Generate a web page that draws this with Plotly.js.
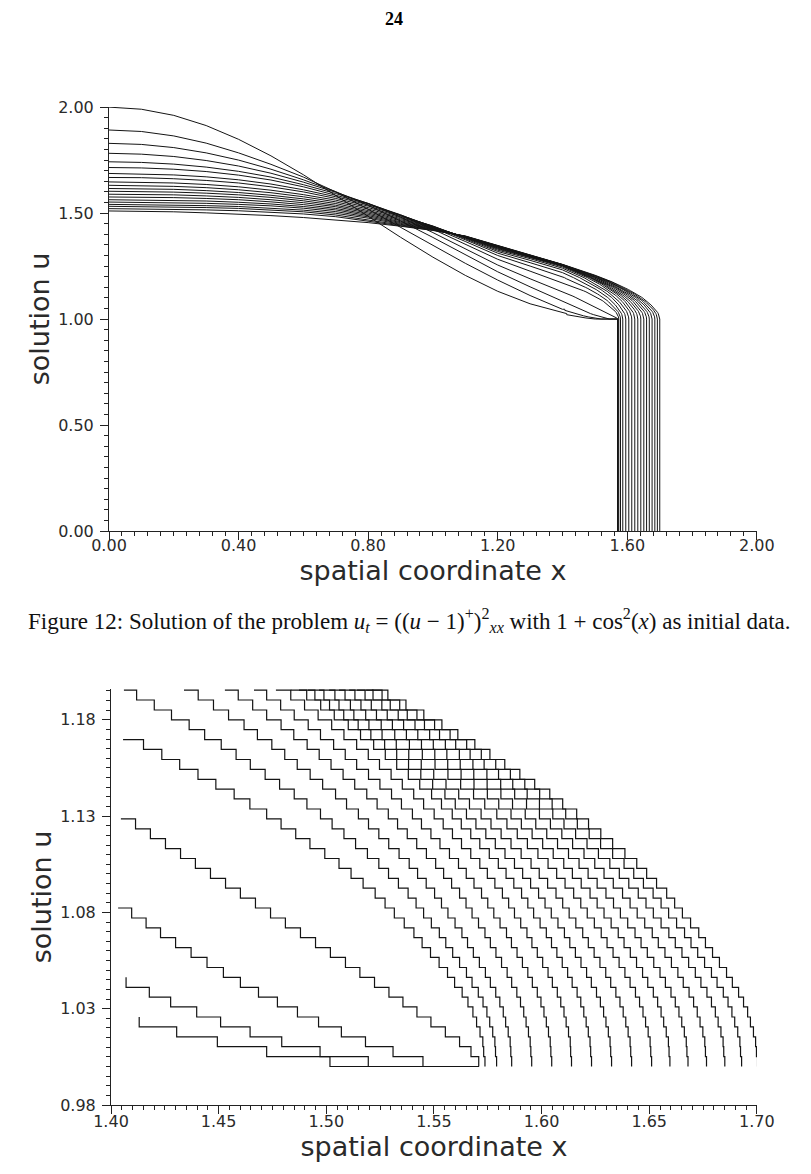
<!DOCTYPE html>
<html><head><meta charset="utf-8">
<script src="https://cdn.plot.ly/plotly-3.0.1.min.js"></script>
<style>html,body{margin:0;padding:0;background:#fff;}#chart{width:811px;height:1174px;}</style>
</head><body><div id="chart"></div>
<script>
// ---------- Top panel: full profiles u(x) at successive times ----------
const xGrid = [0.0,0.1,0.2,0.3,0.4,0.5,0.6,0.7,0.8,0.9,1.0,1.1,1.2,1.3,1.4,1.5];
const prof0  = [2.000,1.990,1.961,1.913,1.848,1.770,1.681,1.585,1.485,1.386,1.292,1.206,1.131,1.072,1.029,1.005];
const prof1  = [1.892,1.885,1.864,1.830,1.784,1.730,1.670,1.600,1.518,1.432,1.346,1.263,1.184,1.111,1.046,1.008];
const prof2  = [1.829,1.824,1.809,1.784,1.750,1.707,1.657,1.601,1.537,1.463,1.385,1.303,1.223,1.152,1.085,1.030];
const prof3  = [1.782,1.778,1.767,1.748,1.722,1.688,1.646,1.598,1.545,1.481,1.408,1.330,1.255,1.190,1.129,1.060];
const prof4  = [1.742,1.739,1.731,1.717,1.697,1.670,1.634,1.592,1.546,1.489,1.424,1.352,1.282,1.226,1.170,1.100];
const prof5  = [1.715,1.713,1.707,1.696,1.679,1.656,1.624,1.585,1.544,1.492,1.432,1.366,1.300,1.250,1.200,1.140];
const prof6  = [1.687,1.685,1.680,1.671,1.657,1.637,1.610,1.577,1.539,1.491,1.436,1.374,1.311,1.266,1.219,1.165];
const prof7  = [1.668,1.667,1.662,1.654,1.642,1.624,1.600,1.569,1.533,1.488,1.438,1.379,1.319,1.277,1.232,1.180];
const prof8  = [1.647,1.646,1.642,1.635,1.624,1.608,1.587,1.561,1.526,1.484,1.439,1.382,1.325,1.285,1.240,1.190];
const prof9  = [1.631,1.630,1.626,1.620,1.610,1.596,1.577,1.553,1.519,1.479,1.437,1.384,1.330,1.290,1.246,1.197];
const prof10 = [1.616,1.615,1.612,1.606,1.597,1.584,1.567,1.545,1.512,1.474,1.435,1.385,1.333,1.292,1.250,1.202];
const prof11 = [1.603,1.602,1.599,1.594,1.586,1.574,1.558,1.537,1.506,1.469,1.433,1.386,1.336,1.294,1.252,1.205];
const prof12 = [1.589,1.588,1.586,1.581,1.574,1.563,1.549,1.530,1.500,1.464,1.431,1.387,1.338,1.296,1.253,1.207];
const prof13 = [1.576,1.575,1.573,1.569,1.563,1.553,1.540,1.522,1.494,1.459,1.429,1.388,1.340,1.298,1.254,1.208];
const prof14 = [1.563,1.562,1.560,1.557,1.551,1.543,1.531,1.515,1.488,1.455,1.427,1.389,1.342,1.299,1.255,1.197];
const prof15 = [1.552,1.551,1.549,1.546,1.541,1.534,1.523,1.507,1.482,1.451,1.425,1.389,1.343,1.300,1.256,1.199];
const prof16 = [1.541,1.540,1.538,1.535,1.531,1.524,1.514,1.499,1.476,1.447,1.423,1.390,1.344,1.300,1.256,1.201];
const prof17 = [1.532,1.531,1.529,1.526,1.522,1.515,1.506,1.491,1.469,1.444,1.421,1.390,1.345,1.301,1.257,1.203];
const prof18 = [1.521,1.520,1.518,1.515,1.511,1.505,1.496,1.483,1.462,1.441,1.419,1.391,1.346,1.301,1.257,1.205];
const prof19 = [1.510,1.509,1.506,1.501,1.495,1.488,1.479,1.468,1.455,1.438,1.418,1.392,1.347,1.302,1.258,1.207];

// ---------- Bottom panel: plotter staircase near the front ----------
// plotter's u levels (level 0 = 1.00)
const uLevels = [1.0000,1.0051,1.0103,1.0154,1.0206,1.0257,1.0309,1.0360,1.0411,1.0463,
                 1.0514,1.0566,1.0617,1.0669,1.0720,1.0771,1.0823,1.0874,1.0926,1.0977,
                 1.1029,1.1080,1.1131,1.1183,1.1234,1.1286,1.1337,1.1389,1.1440,1.1491,
                 1.1543,1.1594,1.1646,1.1697,1.1749,1.1800,1.1851,1.1903,1.1954];
// top level index of each curve's first step
const stepTop = [5,9,16,25,33,38,38,38,38,38,38,38,38,38,38,38,38,38,38,38];
// x at each step (one per level from the top level downward)
const stepX0  = [1.4131,1.4131,1.4305,1.4494,1.4723,1.5017,1.5708];
const stepX1  = [1.4070,1.4070,1.4178,1.4277,1.4398,1.4509,1.4646,1.4793,1.4971,1.5195,1.5708];
const stepX2  = [1.4033,1.4096,1.4163,1.4230,1.4300,1.4372,1.4446,1.4522,1.4601,1.4685,1.4773,1.4866,1.4964,1.5070,1.5182,1.5310,1.5449,1.5708];
const stepX3  = [1.4046,1.4114,1.4183,1.4253,1.4323,1.4392,1.4462,1.4532,1.4601,1.4671,1.4741,1.4810,1.4880,1.4950,1.5019,1.5089,1.5156,1.5224,1.5291,1.5356,1.5421,1.5486,1.5553,1.5619,1.5672,1.5708];
const stepX4  = [1.4056,1.4151,1.4236,1.4319,1.4404,1.4487,1.4572,1.4645,1.4723,1.4790,1.4858,1.4924,1.4993,1.5059,1.5115,1.5171,1.5227,1.5273,1.5316,1.5362,1.5407,1.5445,1.5484,1.5524,1.5563,1.5596,1.5631,1.5658,1.5681,1.5698,1.5714,1.5727,1.5731,1.5737];
const stepX5  = [1.4060,1.4119,1.4201,1.4281,1.4363,1.4435,1.4512,1.4581,1.4647,1.4716,1.4783,1.4851,1.4910,1.4973,1.5027,1.5082,1.5136,1.5191,1.5244,1.5289,1.5335,1.5380,1.5417,1.5452,1.5488,1.5525,1.5555,1.5587,1.5619,1.5651,1.5677,1.5706,1.5728,1.5746,1.5759,1.5773,1.5783,1.5786,1.5791];
const stepX6  = [1.4339,1.4405,1.4476,1.4546,1.4618,1.4680,1.4747,1.4807,1.4865,1.4925,1.4983,1.5043,1.5094,1.5149,1.5196,1.5244,1.5290,1.5338,1.5385,1.5424,1.5464,1.5503,1.5535,1.5565,1.5598,1.5630,1.5656,1.5683,1.5711,1.5739,1.5762,1.5787,1.5806,1.5822,1.5833,1.5845,1.5854,1.5857,1.5861];
const stepX7  = [1.4529,1.4591,1.4658,1.4723,1.4790,1.4849,1.4911,1.4967,1.5022,1.5078,1.5132,1.5188,1.5236,1.5288,1.5331,1.5376,1.5420,1.5465,1.5508,1.5545,1.5582,1.5619,1.5649,1.5677,1.5707,1.5737,1.5762,1.5788,1.5814,1.5840,1.5861,1.5885,1.5902,1.5917,1.5928,1.5939,1.5947,1.5950,1.5954];
const stepX8  = [1.4664,1.4723,1.4788,1.4851,1.4916,1.4973,1.5034,1.5088,1.5141,1.5196,1.5249,1.5303,1.5349,1.5400,1.5442,1.5486,1.5528,1.5572,1.5614,1.5650,1.5686,1.5721,1.5750,1.5778,1.5807,1.5837,1.5860,1.5886,1.5911,1.5936,1.5957,1.5980,1.5997,1.6011,1.6022,1.6032,1.6040,1.6043,1.6047];
const stepX9  = [1.4766,1.4835,1.4899,1.4962,1.5025,1.5082,1.5141,1.5195,1.5247,1.5301,1.5353,1.5406,1.5452,1.5501,1.5543,1.5586,1.5628,1.5671,1.5713,1.5748,1.5783,1.5818,1.5847,1.5874,1.5903,1.5932,1.5955,1.5980,1.6005,1.6030,1.6050,1.6073,1.6089,1.6104,1.6114,1.6125,1.6133,1.6135,1.6139];
const stepX10 = [1.4835,1.4909,1.4974,1.5037,1.5102,1.5159,1.5220,1.5274,1.5327,1.5381,1.5434,1.5489,1.5535,1.5585,1.5627,1.5671,1.5713,1.5757,1.5799,1.5835,1.5871,1.5907,1.5936,1.5963,1.5993,1.6022,1.6046,1.6071,1.6096,1.6121,1.6142,1.6165,1.6182,1.6196,1.6207,1.6217,1.6225,1.6228,1.6232];
const stepX11 = [1.4873,1.4947,1.5015,1.5081,1.5148,1.5207,1.5271,1.5327,1.5382,1.5439,1.5494,1.5551,1.5599,1.5651,1.5695,1.5741,1.5785,1.5830,1.5874,1.5912,1.5949,1.5986,1.6016,1.6045,1.6076,1.6106,1.6131,1.6157,1.6183,1.6209,1.6231,1.6255,1.6273,1.6288,1.6299,1.6310,1.6318,1.6321,1.6325];
const stepX12 = [1.4915,1.4989,1.5059,1.5128,1.5198,1.5259,1.5325,1.5383,1.5441,1.5499,1.5556,1.5615,1.5665,1.5719,1.5765,1.5812,1.5858,1.5905,1.5951,1.5989,1.6028,1.6067,1.6098,1.6128,1.6159,1.6191,1.6217,1.6244,1.6271,1.6298,1.6321,1.6345,1.6364,1.6379,1.6391,1.6402,1.6411,1.6414,1.6418];
const stepX13 = [1.4966,1.5040,1.5112,1.5183,1.5255,1.5318,1.5386,1.5446,1.5505,1.5565,1.5624,1.5684,1.5736,1.5792,1.5839,1.5887,1.5934,1.5983,1.6030,1.6070,1.6109,1.6149,1.6182,1.6212,1.6245,1.6277,1.6304,1.6332,1.6360,1.6387,1.6411,1.6436,1.6455,1.6471,1.6483,1.6495,1.6504,1.6507,1.6511];
const stepX14 = [1.5013,1.5087,1.5161,1.5233,1.5307,1.5372,1.5442,1.5504,1.5564,1.5626,1.5686,1.5748,1.5801,1.5858,1.5906,1.5956,1.6005,1.6054,1.6103,1.6143,1.6184,1.6225,1.6258,1.6290,1.6323,1.6356,1.6383,1.6412,1.6441,1.6469,1.6493,1.6519,1.6539,1.6555,1.6567,1.6579,1.6589,1.6592,1.6596];
const stepX15 = [1.5059,1.5133,1.5209,1.5283,1.5359,1.5425,1.5497,1.5560,1.5622,1.5685,1.5747,1.5811,1.5865,1.5924,1.5973,1.6024,1.6074,1.6125,1.6174,1.6216,1.6258,1.6299,1.6334,1.6366,1.6400,1.6434,1.6462,1.6491,1.6521,1.6550,1.6575,1.6601,1.6621,1.6638,1.6651,1.6663,1.6672,1.6675,1.6680];
const stepX16 = [1.5106,1.5180,1.5258,1.5334,1.5412,1.5480,1.5553,1.5618,1.5681,1.5746,1.5810,1.5875,1.5930,1.5990,1.6041,1.6094,1.6144,1.6197,1.6247,1.6290,1.6333,1.6376,1.6411,1.6444,1.6479,1.6514,1.6542,1.6573,1.6603,1.6633,1.6658,1.6685,1.6706,1.6723,1.6736,1.6749,1.6758,1.6761,1.6766];
const stepX17 = [1.5143,1.5217,1.5297,1.5376,1.5456,1.5526,1.5601,1.5668,1.5733,1.5800,1.5866,1.5933,1.5990,1.6052,1.6104,1.6158,1.6211,1.6264,1.6317,1.6361,1.6405,1.6449,1.6485,1.6519,1.6555,1.6591,1.6621,1.6652,1.6683,1.6714,1.6740,1.6768,1.6789,1.6807,1.6820,1.6833,1.6843,1.6846,1.6851];
const stepX18 = [1.5185,1.5259,1.5341,1.5421,1.5503,1.5575,1.5652,1.5720,1.5787,1.5855,1.5922,1.5991,1.6049,1.6112,1.6166,1.6221,1.6274,1.6330,1.6383,1.6428,1.6473,1.6518,1.6555,1.6590,1.6627,1.6664,1.6694,1.6725,1.6757,1.6789,1.6815,1.6844,1.6866,1.6884,1.6897,1.6911,1.6921,1.6924,1.6929];
const stepX19 = [1.5212,1.5286,1.5370,1.5453,1.5537,1.5611,1.5690,1.5760,1.5829,1.5899,1.5968,1.6038,1.6098,1.6163,1.6218,1.6275,1.6330,1.6387,1.6442,1.6488,1.6534,1.6581,1.6618,1.6654,1.6692,1.6730,1.6761,1.6794,1.6826,1.6859,1.6886,1.6915,1.6938,1.6957,1.6970,1.6984,1.6994,1.6998,1.7003];

// ---------- Tick labels ----------
const xTicks1 = [0,0.4,0.8,1.2,1.6,2.0];
const xTickText1 = ['0.00','0.40','0.80','1.20','1.60','2.00'];
const yTicks1 = [0,0.5,1.0,1.5,2.0];
const yTickText1 = ['0.00','0.50','1.00','1.50','2.00'];
const xTicks2 = [1.40,1.45,1.50,1.55,1.60,1.65,1.70];
const xTickText2 = ['1.40','1.45','1.50','1.55','1.60','1.65','1.70'];
const yTicks2 = [0.98,1.03,1.08,1.13,1.18];
const yTickText2 = ['0.98','1.03','1.08','1.13','1.18'];

const profiles = [prof0,prof1,prof2,prof3,prof4,prof5,prof6,prof7,prof8,prof9,prof10,prof11,prof12,prof13,prof14,prof15,prof16,prof17,prof18,prof19];
const stepsX = [stepX0,stepX1,stepX2,stepX3,stepX4,stepX5,stepX6,stepX7,stepX8,stepX9,stepX10,stepX11,stepX12,stepX13,stepX14,stepX15,stepX16,stepX17,stepX18,stepX19];

const ink = '#141414';
const traces = [];
for (let c = 0; c < profiles.length; c++) {
  const sx = stepsX[c];
  const su = sx.map((_, i) => uLevels[Math.max(stepTop[c] - i, 0)]);
  const fx = [], fu = [];
  profiles[c].forEach((u, i) => { if (xGrid[i] < sx[0]) { fx.push(xGrid[i]); fu.push(u); } });
  sx.forEach((x, i) => { fx.push(x); fu.push(su[i]); });
  fx.push(sx[sx.length - 1]); fu.push(0);
  traces.push({x: fx, y: fu, xaxis: 'x', yaxis: 'y', type: 'scatter', mode: 'lines',
               line: {color: ink, width: 1}, hoverinfo: 'skip'});
  traces.push({x: sx, y: su, xaxis: 'x2', yaxis: 'y2', type: 'scatter', mode: 'lines',
               line: {color: ink, width: 1.2, shape: 'hv'}, hoverinfo: 'skip'});
}

const axisCommon = {
  showline: true, linecolor: '#222', linewidth: 1, showgrid: false, zeroline: false,
  ticks: 'outside', ticklen: 8, tickwidth: 1, tickcolor: '#222', tickmode: 'array',
  tickfont: {family: 'DejaVu Sans, sans-serif', size: 16, color: '#2a2a2a'}
};
const titleFont = {family: 'DejaVu Sans, sans-serif', size: 27, color: '#2a2a2a'};
const H = 1174, W = 811;

const layout = {
  width: W, height: H, margin: {l: 0, r: 0, t: 0, b: 0},
  paper_bgcolor: '#fff', plot_bgcolor: 'rgba(0,0,0,0)', showlegend: false,
  xaxis: Object.assign({}, axisCommon, {
    domain: [109/W, 757/W], range: [0, 2.0005], anchor: 'y',
    tickvals: xTicks1, ticktext: xTickText1, ticklabelstandoff: -8,
    minor: {tickmode: 'linear', tick0: 0, dtick: 0.04, ticks: 'outside', ticklen: 4, tickcolor: '#222', showgrid: false},
    title: {text: 'spatial coordinate x', font: titleFont, standoff: 0}
  }),
  yaxis: Object.assign({}, axisCommon, {
    domain: [(H-531)/H, (H-107)/H], range: [0, 2.0005], anchor: 'x',
    tickvals: yTicks1, ticktext: yTickText1, ticklabelstandoff: 3,
    minor: {tickmode: 'linear', tick0: 0, dtick: 0.05, ticks: 'outside', ticklen: 4, tickcolor: '#222', showgrid: false},
    title: {text: 'solution u', font: titleFont, standoff: 0}
  }),
  xaxis2: Object.assign({}, axisCommon, {
    domain: [111/W, 757/W], range: [1.4, 1.70005], anchor: 'y2',
    tickvals: xTicks2, ticktext: xTickText2, ticklabelstandoff: -6,
    minor: {tickmode: 'linear', tick0: 1.4, dtick: 0.005, ticks: 'outside', ticklen: 4, tickcolor: '#222', showgrid: false},
    title: {text: 'spatial coordinate x', font: titleFont, standoff: 0}
  }),
  yaxis2: Object.assign({}, axisCommon, {
    domain: [(H-1105)/H, (H-689)/H], range: [0.98, 1.196], anchor: 'x2',
    tickvals: yTicks2, ticktext: yTickText2, ticklabelstandoff: 3,
    minor: {tickmode: 'linear', tick0: 0.98, dtick: 0.005, ticks: 'outside', ticklen: 4, tickcolor: '#222', showgrid: false},
    title: {text: 'solution u', font: titleFont, standoff: 0}
  }),
  annotations: [
    {text: '<b>24</b>', xref: 'paper', yref: 'paper', x: 394/W, y: (H-19)/H, yanchor: 'middle', xanchor: 'center', showarrow: false,
     font: {family: 'Liberation Serif, serif', size: 18, color: '#000'}},
    {text: 'Figure 12: Solution of the problem <i>u</i><sub><i>t</i></sub> = ((<i>u</i> − 1)<sup>+</sup>)<sup>2</sup><sub><i>xx</i></sub> with 1 + cos<sup>2</sup>(<i>x</i>) as initial data.',
     xref: 'paper', yref: 'paper', x: 409/W, y: (H-620)/H, yanchor: 'middle', xanchor: 'center', showarrow: false,
     font: {family: 'Liberation Serif, serif', size: 23, color: '#111'}}
  ]
};

Plotly.newPlot('chart', traces, layout, {staticPlot: true, displayModeBar: false});
</script>
</body></html>
